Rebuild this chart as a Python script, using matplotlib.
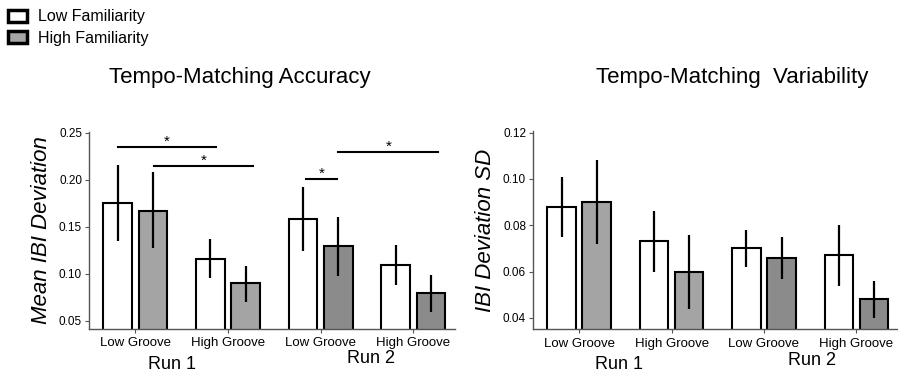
import matplotlib
matplotlib.use('Agg')
import matplotlib.pyplot as plt
import matplotlib.transforms as mtransforms
from matplotlib.patches import Patch
import numpy as np

plt.rcParams['font.family'] = ['Liberation Sans', 'DejaVu Sans']

groups = ['Low Groove', 'High Groove', 'Low Groove', 'High Groove']
runs = ['Run 1', 'Run 2']
legend_labels = ['Low Familiarity', 'High Familiarity']

# Tempo-matching accuracy (mean IBI deviation)
acc_low = [0.175, 0.116, 0.158, 0.109]
acc_low_lo = [0.135, 0.095, 0.124, 0.088]
acc_low_hi = [0.215, 0.137, 0.192, 0.130]
acc_high = [0.167, 0.090, 0.129, 0.079]
acc_high_lo = [0.127, 0.070, 0.097, 0.059]
acc_high_hi = [0.208, 0.108, 0.160, 0.098]

# Tempo-matching variability (IBI deviation SD)
var_low = [0.088, 0.073, 0.070, 0.067]
var_low_lo = [0.075, 0.060, 0.062, 0.054]
var_low_hi = [0.101, 0.086, 0.078, 0.080]
var_high = [0.090, 0.060, 0.066, 0.048]
var_high_lo = [0.072, 0.044, 0.057, 0.040]
var_high_hi = [0.108, 0.076, 0.075, 0.056]

# significance brackets on the accuracy panel: (x start, x end, y)
sig_x0 = [-0.19, 0.20, 1.84, 2.19]
sig_x1 = [0.87, 1.27, 2.18, 3.27]
sig_y = [0.235, 0.2145, 0.2004, 0.2298]

run_colors = ['#a4a4a4', '#8b8b8b']
width = 0.31
off = 0.19


def draw_panel(ax, low, low_lo, low_hi, high, high_lo, high_hi):
    x = np.arange(len(groups))
    gray = [run_colors[0], run_colors[0], run_colors[1], run_colors[1]]
    ax.bar(x - off, low, width, color='white', edgecolor='black', linewidth=1.5, zorder=2)
    ax.bar(x + off, high, width, color=gray, edgecolor='black', linewidth=1.5, zorder=2)
    ax.vlines(x - off, low_lo, low_hi, color='black', linewidth=1.6, zorder=3)
    ax.vlines(x + off, high_lo, high_hi, color='black', linewidth=1.6, zorder=3)
    ax.set_xticks(x)
    ax.set_xticklabels(groups, fontsize=9.5)
    ax.set_xlim(-0.5, 3.45)
    for s in ['top', 'right']:
        ax.spines[s].set_visible(False)
    for s in ['left', 'bottom']:
        ax.spines[s].set_color('#555555')
        ax.spines[s].set_linewidth(1.0)
    ax.tick_params(axis='both', length=3, width=0.8, color='#555555', labelsize=8.5, pad=2)
    ax.tick_params(axis='x', labelsize=9.5, pad=3)


fig = plt.figure(figsize=(8.98, 3.77), dpi=100)
ax1 = fig.add_axes([0.0991, 0.1273, 0.4076, 0.5236])
ax2 = fig.add_axes([0.5935, 0.1265, 0.4065, 0.525])

draw_panel(ax1, acc_low, acc_low_lo, acc_low_hi, acc_high, acc_high_lo, acc_high_hi)
ax1.set_ylim(0.041, 0.251)
ax1.set_yticks([0.05, 0.10, 0.15, 0.20, 0.25])
ax1.set_yticklabels(['0.05', '0.10', '0.15', '0.20', '0.25'])
ax1.set_ylabel('Mean IBI Deviation', fontsize=16, style='italic', labelpad=5)

for a, b, y in zip(sig_x0, sig_x1, sig_y):
    ax1.plot([a, b], [y, y], color='black', linewidth=1.5, clip_on=False)
    ax1.text((a + b) / 2, y + 0.001, '*', ha='center', va='baseline', fontsize=11)

draw_panel(ax2, var_low, var_low_lo, var_low_hi, var_high, var_high_lo, var_high_hi)
ax2.set_ylim(0.0351, 0.1205)
ax2.set_yticks([0.04, 0.06, 0.08, 0.10, 0.12])
ax2.set_yticklabels(['0.04', '0.06', '0.08', '0.10', '0.12'])
ax2.set_ylabel('IBI Deviation SD', fontsize=16, style='italic', labelpad=5)

# run labels under each pair of groups
for ax, xs, ys in [(ax1, [0.40, 2.54], [0.032, 0.049]), (ax2, [0.43, 2.52], [0.034, 0.045])]:
    tr = mtransforms.blended_transform_factory(ax.transData, fig.transFigure)
    for r, xr, yr in zip(runs, xs, ys):
        ax.text(xr, yr, r, transform=tr, ha='center', va='center', fontsize=13)

fig.text(240 / 898, 1 - 78 / 377, 'Tempo-Matching Accuracy', ha='center', va='center', fontsize=16)
fig.text(732 / 898, 1 - 78 / 377, 'Tempo-Matching  Variability', ha='center', va='center', fontsize=16)

handles = [Patch(facecolor='white', edgecolor='black', linewidth=2.5),
           Patch(facecolor='#a6a6a6', edgecolor='black', linewidth=2.5)]
fig.legend(handles, legend_labels, loc='upper left', bbox_to_anchor=(0.009, 0.975),
           frameon=False, fontsize=11.5, handlelength=1.2, handleheight=0.75,
           handletextpad=0.7, labelspacing=0.4, borderaxespad=0, borderpad=0)

fig.savefig('out.png', dpi=100)
